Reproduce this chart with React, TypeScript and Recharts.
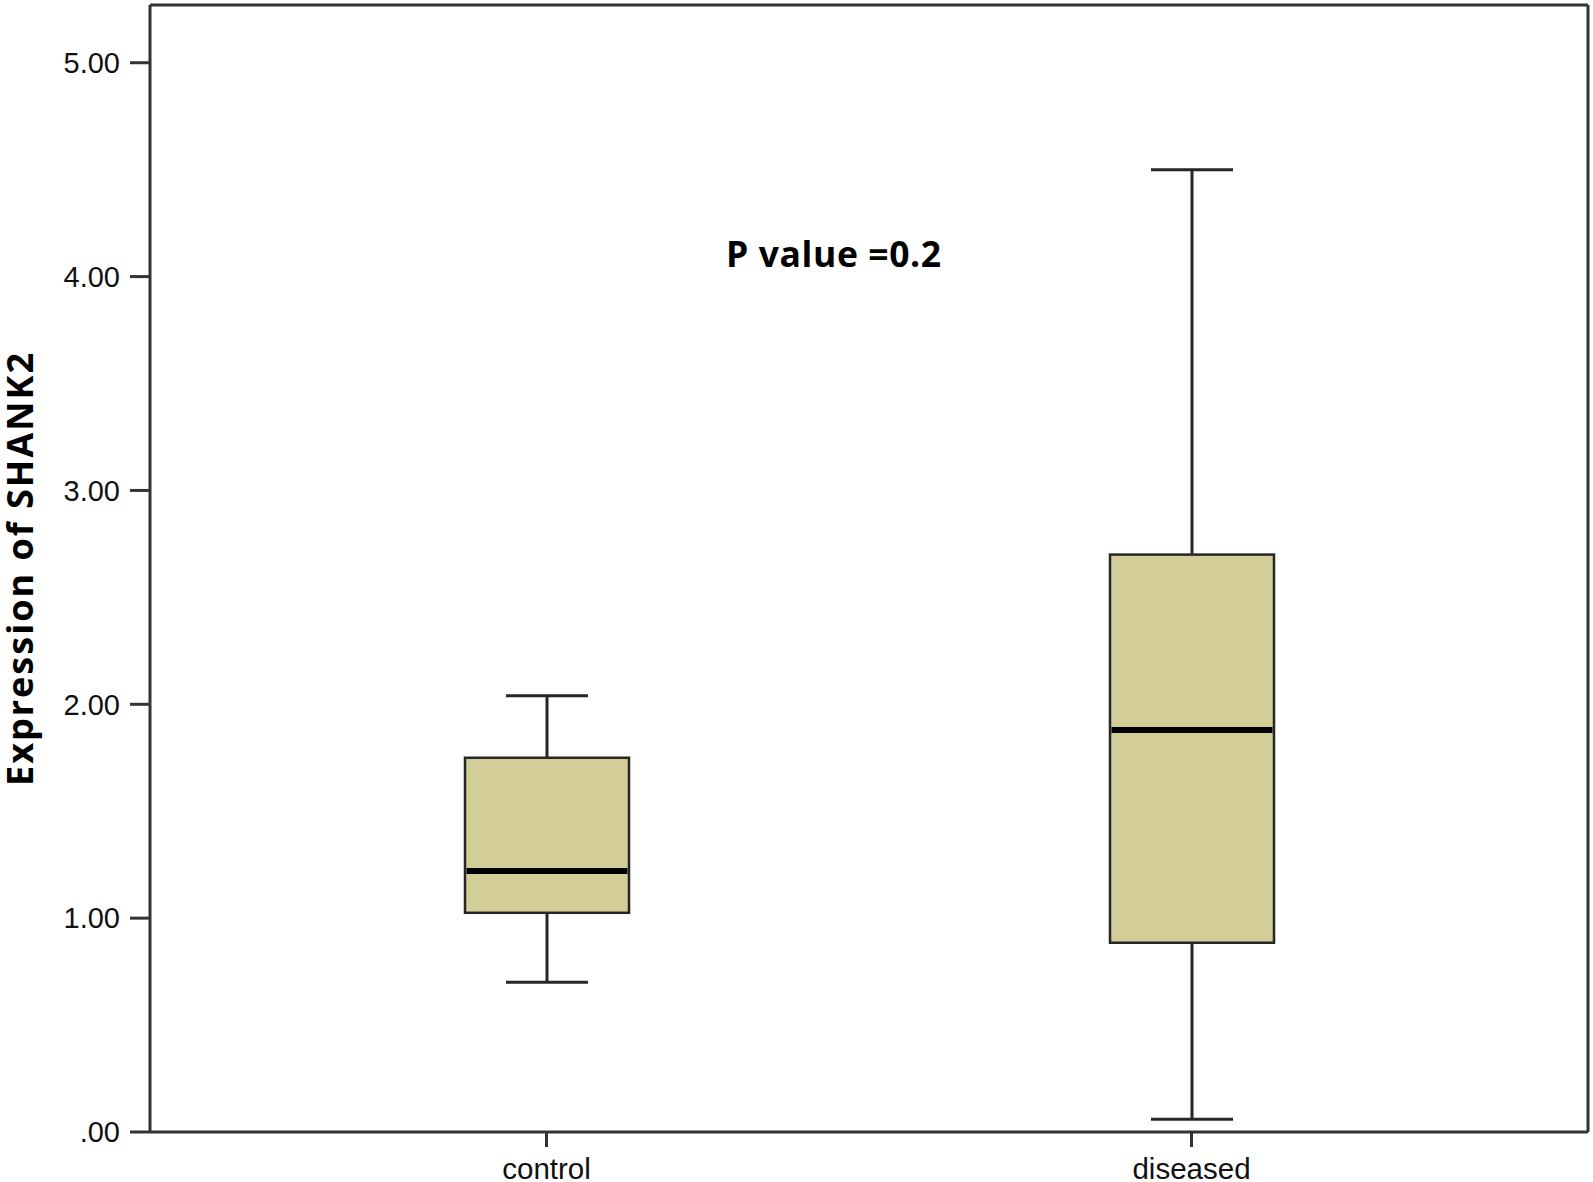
import React from 'react';
import { ComposedChart, Bar, XAxis, YAxis, Label, Customized, ReferenceLine } from 'recharts';

const categories = ['control', 'diseased'];
const whiskerLow = [0.7, 0.06];
const quartile1 = [1.025, 0.885];
const medians = [1.22, 1.88];
const quartile3 = [1.75, 2.7];
const whiskerHigh = [2.04, 4.5];
const yTicks = [0, 1, 2, 3, 4, 5];
const yTickLabels = ['.00', '1.00', '2.00', '3.00', '4.00', '5.00'];
const yMax = 5.27;
const yLabel = 'Expression of SHANK2';
const pValueText = 'P value =0.2';

const data = categories.map((name, i) => ({
  name,
  range: [whiskerLow[i], whiskerHigh[i]],
  lo: whiskerLow[i],
  q1: quartile1[i],
  med: medians[i],
  q3: quartile3[i],
  hi: whiskerHigh[i],
}));

const BOX_FILL = '#D3CE98';
const DARK = '#262626';
const AXIS = '#333';

const BoxShape = (props: any) => {
  const { x, y, width, height, payload } = props;
  if (x == null || y == null || !payload) return null;
  const top = Math.min(y, y + height);
  const h = Math.abs(height);
  const { lo, hi, q1, med, q3 } = payload;
  const toY = (v: number) => top + (h * (hi - v)) / (hi - lo);
  const cx = x + width / 2;
  const capHalf = width / 4;
  const yHi = toY(hi);
  const yLo = toY(lo);
  const yQ1 = toY(q1);
  const yQ3 = toY(q3);
  const yMed = toY(med);
  return (
    <g>
      <line x1={cx} x2={cx} y1={yHi} y2={yQ3} stroke={DARK} strokeWidth={3} />
      <line x1={cx} x2={cx} y1={yQ1} y2={yLo} stroke={DARK} strokeWidth={3} />
      <line x1={cx - capHalf} x2={cx + capHalf} y1={yHi} y2={yHi} stroke={DARK} strokeWidth={3} />
      <line x1={cx - capHalf} x2={cx + capHalf} y1={yLo} y2={yLo} stroke={DARK} strokeWidth={3} />
      <rect x={x} y={yQ3} width={width} height={yQ1 - yQ3} fill={BOX_FILL} stroke={DARK} strokeWidth={2.5} />
      <line x1={x + 1.5} x2={x + width - 1.5} y1={yMed} y2={yMed} stroke="#000" strokeWidth={6} />
    </g>
  );
};

const YLabelContent = (props: any) => {
  const vb = props.viewBox || {};
  const cx = (vb.x ?? 0) + 33;
  const cy = (vb.y ?? 0) + (vb.height ?? 0) / 2;
  return (
    <text
      x={cx}
      y={cy}
      transform={`rotate(-90, ${cx}, ${cy})`}
      textAnchor="middle"
      fontFamily="'Open Sans', sans-serif"
      fontWeight={700}
      fontSize={36}
      letterSpacing={2}
      fill="#000"
    >
      {yLabel}
    </text>
  );
};

const PValue = () => (
  <text
    x={726}
    y={267}
    textAnchor="start"
    fontFamily="'Open Sans', sans-serif"
    fontWeight={700}
    fontSize={35.5}
    letterSpacing={0.6}
    fill="#000"
  >
    {pValueText}
  </text>
);

export default function App() {
  return (
    <div style={{ position: 'absolute', left: 0, top: 0, background: '#fff' }}>
      <ComposedChart
        width={1593}
        height={1182}
        data={data}
        margin={{ top: 5, right: 5, bottom: 0, left: 0 }}
      >
        <XAxis
          dataKey="name"
          type="category"
          height={50}
          padding={{ left: 74, right: 74 }}
          axisLine={{ stroke: AXIS, strokeWidth: 3 }}
          tickLine={{ stroke: AXIS, strokeWidth: 3 }}
          tickSize={15}
          tickMargin={11}
          tick={{ fill: '#111', fontFamily: "'Liberation Sans', Arial, sans-serif", fontSize: 29.5 }}
        />
        <XAxis xAxisId="frame" type="number" domain={[0, 1]} hide />
        <YAxis
          width={150}
          domain={[0, yMax]}
          ticks={yTicks}
          type="number"
          allowDataOverflow
          axisLine={{ stroke: AXIS, strokeWidth: 3 }}
          tickLine={{ stroke: AXIS, strokeWidth: 3 }}
          tickSize={20}
          tickMargin={10}
          tickFormatter={(v: number) => yTickLabels[yTicks.indexOf(v)] ?? String(v)}
          tick={{ fill: '#111', fontFamily: "'Liberation Sans', Arial, sans-serif", fontSize: 29 }}
        >
          <Label content={<YLabelContent />} />
        </YAxis>
        <ReferenceLine y={yMax} stroke={AXIS} strokeWidth={3} ifOverflow="visible" />
        <ReferenceLine xAxisId="frame" x={1} stroke={AXIS} strokeWidth={3} ifOverflow="visible" />
        <Bar
          dataKey="range"
          barSize={164}
          isAnimationActive={false}
          shape={<BoxShape />}
        />
        <Customized component={PValue} />
      </ComposedChart>
    </div>
  );
}
